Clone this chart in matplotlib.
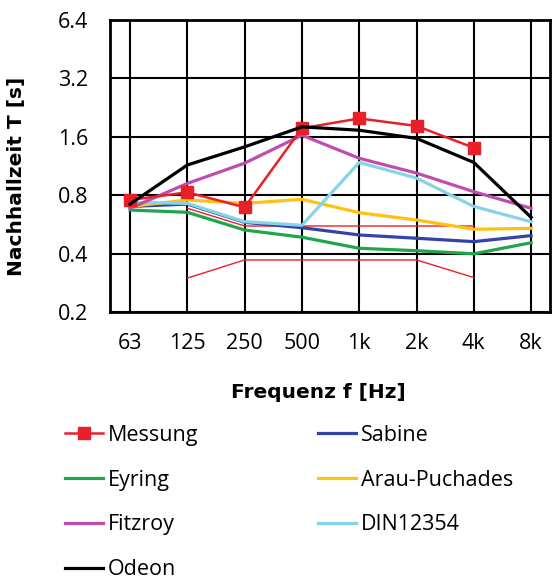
import matplotlib
matplotlib.use("Agg")
import matplotlib.pyplot as plt
from matplotlib.ticker import FixedLocator, FixedFormatter, NullLocator
import numpy as np

plt.rcParams['font.family'] = ['Open Sans', 'DejaVu Sans']

categories = ["63", "125", "250", "500", "1k", "2k", "4k", "8k"]
messung = [0.756, 0.828, 0.693, 1.77, 1.99, 1.82, 1.405, None]
tol_upper = [None, 0.685, 0.555, 0.555, 0.555, 0.555, 0.555, None]
tol_lower = [None, 0.299, 0.371, 0.371, 0.371, 0.371, 0.301, None]
sabine = [0.70, 0.72, 0.58, 0.544, 0.499, 0.48, 0.461, 0.495]
eyring = [0.671, 0.653, 0.529, 0.486, 0.426, 0.414, 0.399, 0.455]
arau = [0.70, 0.756, 0.726, 0.762, 0.65, 0.596, 0.534, 0.54]
fitzroy = [0.685, 0.92, 1.17, 1.63, 1.24, 1.04, 0.834, 0.685]
din = [0.735, 0.726, 0.584, 0.56, 1.18, 0.98, 0.70, 0.584]
odeon = [0.72, 1.145, 1.42, 1.80, 1.73, 1.57, 1.18, 0.615]
yticks = [0.2, 0.4, 0.8, 1.6, 3.2, 6.4]
ytick_labels = ["0.2", "0.4", "0.8", "1.6", "3.2", "6.4"]

def arr(v):
    return np.array([np.nan if a is None else a for a in v], dtype=float)

FS = 15.5
fig = plt.figure(figsize=(5.6, 5.79), dpi=100)
ax = fig.add_axes([110/560, 1-312/579, 440/560, 292/579])
x = np.arange(len(categories))

lw = 2.3
h_m, = ax.plot(x, arr(messung), color='#E8202A', lw=1.8, marker='s', ms=8, mec='#E8202A', mfc='#E8202A', zorder=3, label='Messung')
ax.plot(x, arr(tol_upper), color='#E8202A', lw=1.0, zorder=2)
ax.plot(x, arr(tol_lower), color='#E8202A', lw=1.0, zorder=2)
h_s, = ax.plot(x, arr(sabine), color='#3344A8', lw=lw, zorder=2, label='Sabine')
h_e, = ax.plot(x, arr(eyring), color='#1FA64A', lw=lw, zorder=2, label='Eyring')
h_a, = ax.plot(x, arr(arau), color='#FFC20E', lw=lw, zorder=2, label='Arau-Puchades')
h_d, = ax.plot(x, arr(din), color='#86D4E8', lw=lw, zorder=2, label='DIN12354')
h_f, = ax.plot(x, arr(fitzroy), color='#BF4DB0', lw=lw, zorder=2, label='Fitzroy')
h_o, = ax.plot(x, arr(odeon), color='black', lw=lw, zorder=4, label='Odeon')

ax.set_yscale('log', base=2)
ax.set_ylim(0.2, 6.4)
ax.set_xlim(-0.35, 7.33)
ax.yaxis.set_major_locator(FixedLocator(yticks))
ax.yaxis.set_major_formatter(FixedFormatter(ytick_labels))
ax.yaxis.set_minor_locator(NullLocator())
ax.set_xticks(x)
ax.set_xticklabels(categories)
ax.tick_params(axis='both', length=0, labelsize=FS)
ax.tick_params(axis='y', pad=15.5)
ax.tick_params(axis='x', pad=15)
ax.grid(True, color='black', lw=1.5, zorder=1)
ax.set_axisbelow(True)
for s in ax.spines.values():
    s.set_linewidth(2.0)
    s.set_color('black')

fig.text(318/560, 1-392/579, 'Frequenz f [Hz]', fontsize=14.5, family='DejaVu Sans',
         fontweight='bold', ha='center', va='center')
fig.text(17/560, 1-176/579, 'Nachhallzeit T [s]', rotation=90, fontsize=14.5,
         family='DejaVu Sans', fontweight='bold', ha='center', va='center')

common = dict(loc='upper left', frameon=False, fontsize=FS, handlelength=1.75,
              handletextpad=0.25, labelspacing=1.1, borderaxespad=0, borderpad=0)
col1 = [h_m, h_e, h_f, h_o]
col2 = [h_s, h_a, h_d]
fig.legend(handles=col1, labels=[h.get_label() for h in col1],
           bbox_to_anchor=(65/560, 1-425/579), **common)
fig.legend(handles=col2, labels=[h.get_label() for h in col2],
           bbox_to_anchor=(318/560, 1-425/579), **common)

fig.savefig('out.png', dpi=100)
